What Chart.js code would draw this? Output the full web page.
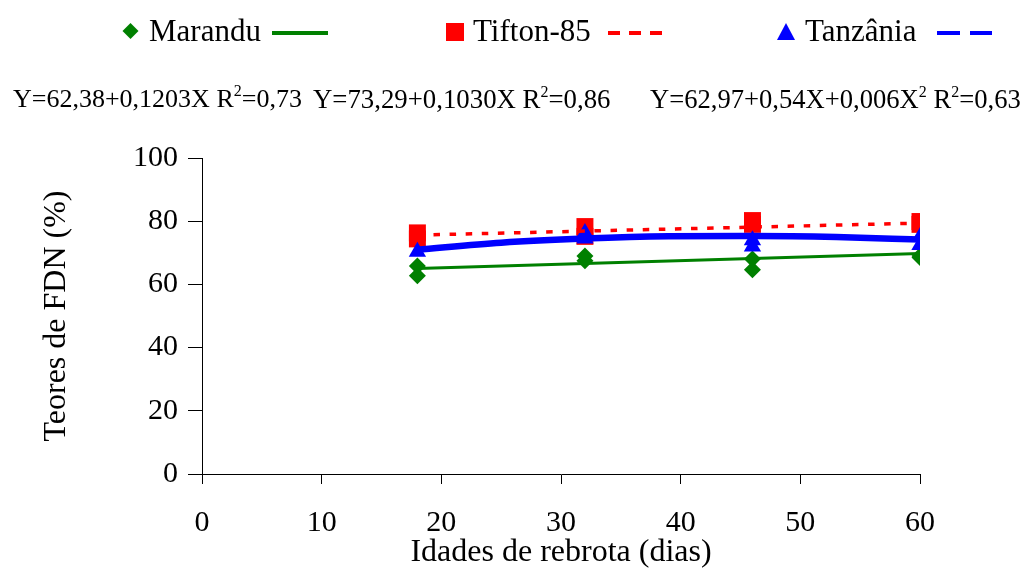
<!DOCTYPE html>
<html>
<head>
<meta charset="utf-8">
<script src="https://cdn.jsdelivr.net/npm/chart.js@4.4.1/dist/chart.umd.min.js"></script>
<style>
  html,body{margin:0;padding:0;background:#fff;}
  #wrap{position:relative;width:1024px;height:573px;overflow:hidden;font-family:"Liberation Serif","Times New Roman",serif;color:#000;}
  #c{position:absolute;left:0;top:0;}
  .lg{position:absolute;font-size:31px;line-height:31px;white-space:nowrap;}
  .eq{position:absolute;font-size:26px;line-height:26px;white-space:nowrap;top:86px;}
  .eq .s{font-size:16px;position:relative;top:-11px;}
  svg{position:absolute;overflow:visible;}
</style>
</head>
<body>
<div id="wrap">
  <canvas id="c" width="1024" height="573"></canvas>

  <svg style="left:0;top:0" width="1024" height="60">
    <polygon points="130.5,23 138.5,31 130.5,39 122.5,31" fill="#008000"/>
    <line x1="272" y1="33" x2="328" y2="33" stroke="#008000" stroke-width="4"/>
    <rect x="446" y="23" width="18" height="18" fill="#ff0000"/>
    <line x1="608" y1="33" x2="662" y2="33" stroke="#ff0000" stroke-width="4" stroke-dasharray="12,9"/>
    <polygon points="786,23 795,40 777,40" fill="#0000ff"/>
    <line x1="937" y1="33" x2="992" y2="33" stroke="#0000ff" stroke-width="4" stroke-dasharray="23,10"/>
  </svg>
  <div class="lg" style="left:149px;top:15px">Marandu</div>
  <div class="lg" style="left:473px;top:15px">Tifton-85</div>
  <div class="lg" style="left:805px;top:15px">Tanzânia</div>

  <div class="eq" style="left:13px">Y=62,38+0,1203X R<span class="s">2</span>=0,73</div>
  <div class="eq" style="left:313px;font-size:26.8px">Y=73,29+0,1030X R<span class="s">2</span>=0,86</div>
  <div class="eq" style="left:650px;font-size:26.6px">Y=62,97+0,54X+0,006X<span class="s">2</span> R<span class="s">2</span>=0,63</div>
</div>
<script>
// observed points (dias, % FDN)
const marX = [18, 18, 32, 32, 46, 46, 60, 60];
const marY = [65.8, 62.7, 69.0, 67.5, 68.0, 64.6, 69.0, 68.5];
const tifX = [18, 18, 32, 32, 46, 46, 60, 60];
const tifY = [76.3, 74.4, 78.3, 75.2, 80.2, 79.0, 79.9, 79.0];
const tanX = [18, 32, 32, 46, 46, 60, 60];
const tanY = [70.3, 76.3, 74.5, 74.0, 72.0, 75.0, 72.5];

// fitted lines
const marLineX = [18, 60];
const marLineY = [65.0, 69.8];
const tifLineX = [18, 60];
const tifLineY = [75.6, 79.4];
const tanLineX = [18, 25, 32, 39, 46, 53, 60];
const tanLineY = [71.0, 73.2, 74.5, 75.2, 75.3, 75.0, 74.2];

const xTicks = [0, 10, 20, 30, 40, 50, 60];
const yTicks = [0, 20, 40, 60, 80, 100];

const FONT = '"Liberation Serif","Times New Roman",serif';
const pts = (xs, ys) => xs.map((x,i)=>({x, y:ys[i]}));

function lineDs(xs, ys, color, width, dash){
  return {data:pts(xs,ys), showLine:true, borderColor:color, borderWidth:width, borderDash:dash||[],
    pointRadius:0, pointHoverRadius:0, fill:false, tension:0.4, cubicInterpolationMode:'monotone'};
}
function ptDs(xs, ys, color, style, r){
  return {data:pts(xs,ys), showLine:false, pointStyle:style, pointRadius:r, pointHoverRadius:r,
    backgroundColor:color, borderColor:color, borderWidth:0};
}

new Chart(document.getElementById('c'), {
  type:'scatter',
  data:{datasets:[
    lineDs(tanLineX, tanLineY, '#0000ff', 6.5),
    lineDs(tifLineX, tifLineY, '#ff0000', 3.5, [6.5, 9.6]),
    lineDs(marLineX, marLineY, '#008000', 3),
    ptDs(tanX, tanY, '#0000ff', 'triangle', 10),
    ptDs(tifX, tifY, '#ff0000', 'rect', 12),
    ptDs(marX, marY, '#008000', 'rectRot', 8.5)
  ]},
  options:{
    responsive:false, animation:false, events:[],
    layout:{padding:{left:0, right:104, top:158, bottom:0}},
    plugins:{legend:{display:false}, tooltip:{enabled:false}},
    scales:{
      x:{type:'linear', min:0, max:60,
        afterFit:s=>{s.height=99;},
        afterBuildTicks:s=>{s.ticks=xTicks.map(v=>({value:v}));},
        border:{color:'#000', width:1},
        grid:{drawOnChartArea:false, drawTicks:true, tickLength:10, color:'#000', tickColor:'#000'},
        ticks:{color:'#000', font:{family:FONT, size:30}, padding:21, maxRotation:0},
        title:{display:true, text:'Idades de rebrota (dias)', color:'#000', font:{family:FONT, size:32}, padding:{top:0,bottom:1}}
      },
      y:{type:'linear', min:0, max:100,
        afterFit:s=>{s.width=202;},
        afterBuildTicks:s=>{s.ticks=yTicks.map(v=>({value:v}));},
        border:{color:'#000', width:1},
        grid:{drawOnChartArea:false, drawTicks:true, tickLength:14, color:'#000', tickColor:'#000'},
        ticks:{color:'#000', font:{family:FONT, size:30}, padding:10},
        title:{display:true, text:'Teores de FDN (%)', color:'#000', font:{family:FONT, size:32}, padding:{top:37,bottom:0}}
      }
    }
  }
});
</script>
</body>
</html>
